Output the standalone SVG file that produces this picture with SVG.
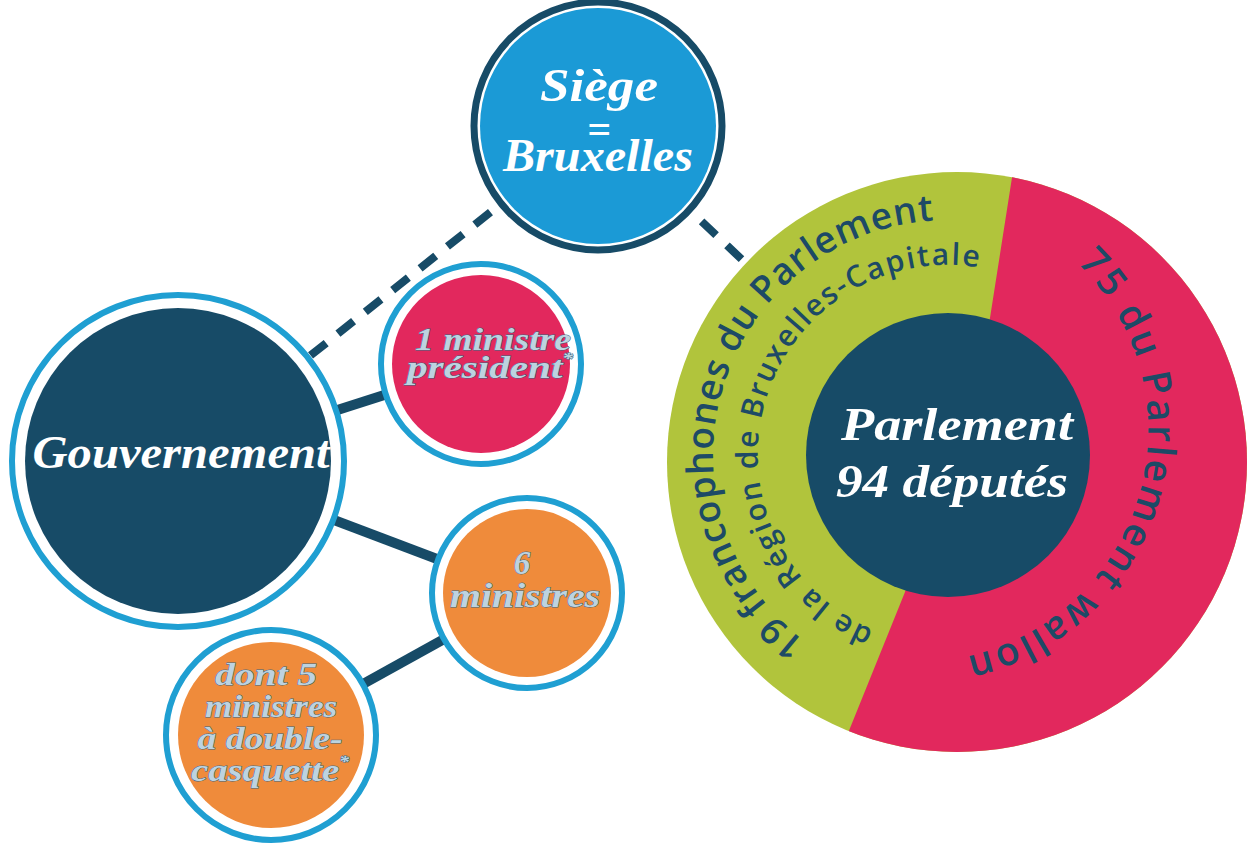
<svg xmlns="http://www.w3.org/2000/svg" width="1254" height="843" viewBox="0 0 1254 843">
<style>
.script{font-family:"Liberation Serif","DejaVu Serif",serif;font-style:italic;font-weight:bold;text-anchor:middle}
.white{fill:#ffffff}
.pale{fill:#bdd3e0;stroke:#3c6781;stroke-width:0.9;paint-order:stroke}
.ring{font-family:"Open Sans","Noto Sans",sans-serif;font-weight:600;fill:#1d4a66}
.conn{stroke:#174b67;fill:none}
.dash{stroke-width:8;stroke-dasharray:20 15}
.solid{stroke-width:10}
.bluering{fill:none;stroke:#1f9fd2;stroke-width:6}
</style>
<defs>
<clipPath id="pinkClip"><polygon points="1021,120 990,318 905,592 821,800 1300,800 1300,120"/></clipPath>
<path id="arcOuter" d="M806.6,642.7 A235,235 0 0 1 1065.5,251.5"/>
<path id="arcInner" d="M873.8,629.9 A190,190 0 1 1 1043,290.5"/>
<path id="arcPink" d="M1077.2,263.1 A232,232 0 0 1 875.7,658.5"/>
</defs>
<rect width="1254" height="843" fill="#ffffff"/>
<g id="connectors">
<line class="conn dash" x1="600" y1="125" x2="178" y2="461"/>
<line class="conn dash" x1="600" y1="125" x2="948" y2="455"/>
<line class="conn solid" x1="178" y1="461" x2="481" y2="364"/>
<line class="conn solid" x1="178" y1="461" x2="527" y2="593"/>
<line class="conn solid" x1="527" y1="593" x2="271" y2="735"/>
</g>
<g id="parlement">
<circle cx="957" cy="462" r="290" fill="#b1c43c"/>
<circle cx="957" cy="462" r="290" fill="#e2285d" clip-path="url(#pinkClip)"/>
<circle cx="948" cy="455" r="142" fill="#174b67"/>
<text class="ring" font-size="37"><textPath href="#arcOuter" textLength="572" lengthAdjust="spacing">19 francophones du Parlement</textPath></text>
<text class="ring" font-size="30"><textPath href="#arcInner" textLength="552" lengthAdjust="spacing">de la Région de Bruxelles-Capitale</textPath></text>
<text class="ring" font-size="39"><textPath href="#arcPink" textLength="500" lengthAdjust="spacing">75 du Parlement wallon</textPath></text>
<text class="script white" x="957" y="440" font-size="47" textLength="232" lengthAdjust="spacingAndGlyphs">Parlement</text>
<text class="script white" x="952" y="497" font-size="47" textLength="232" lengthAdjust="spacingAndGlyphs">94 députés</text>
</g>
<g id="siege">
<circle cx="598" cy="126" r="124" fill="#ffffff" stroke="#174b67" stroke-width="7"/>
<circle cx="598" cy="126" r="118" fill="#1b9ad6"/>
<text class="script white" x="599" y="101" font-size="46" textLength="118" lengthAdjust="spacingAndGlyphs">Siège</text>
<text class="script white" x="599" y="143" font-size="42">=</text>
<text class="script white" x="598" y="171" font-size="46" textLength="190" lengthAdjust="spacingAndGlyphs">Bruxelles</text>
</g>
<g id="gouvernement">
<circle cx="178" cy="461" r="166" fill="#ffffff"/>
<circle cx="178" cy="461" r="166" class="bluering"/>
<circle cx="178" cy="461" r="153" fill="#174b67"/>
<text class="script white" x="181" y="468" font-size="46" textLength="297" lengthAdjust="spacingAndGlyphs">Gouvernement</text>
</g>
<g id="ministre-president">
<circle cx="481" cy="364" r="100" fill="#ffffff"/>
<circle cx="481" cy="364" r="100" class="bluering"/>
<circle cx="481" cy="364" r="89" fill="#e2285d"/>
<text class="script pale" x="493" y="350" font-size="31" textLength="156" lengthAdjust="spacingAndGlyphs">1 ministre</text>
<text class="script pale" x="490" y="378" font-size="31" textLength="166" lengthAdjust="spacingAndGlyphs">président<tspan font-size="16" dy="-14">*</tspan></text>
</g>
<g id="six-ministres">
<circle cx="527" cy="593" r="95" fill="#ffffff"/>
<circle cx="527" cy="593" r="95" class="bluering"/>
<circle cx="527" cy="593" r="84" fill="#ef8b3b"/>
<text class="script pale" x="522" y="574" font-size="33">6</text>
<text class="script pale" x="525" y="607" font-size="33" textLength="150" lengthAdjust="spacingAndGlyphs">ministres</text>
</g>
<g id="double-casquette">
<circle cx="271" cy="735" r="105" fill="#ffffff"/>
<circle cx="271" cy="735" r="105" class="bluering"/>
<circle cx="271" cy="735" r="93" fill="#ef8b3b"/>
<text class="script pale" x="266" y="685" font-size="31" textLength="102" lengthAdjust="spacingAndGlyphs">dont 5</text>
<text class="script pale" x="271" y="717" font-size="31" textLength="132" lengthAdjust="spacingAndGlyphs">ministres</text>
<text class="script pale" x="270" y="749" font-size="31" textLength="145" lengthAdjust="spacingAndGlyphs">à double-</text>
<text class="script pale" x="270" y="781" font-size="31" textLength="158" lengthAdjust="spacingAndGlyphs">casquette<tspan font-size="16" dy="-14">*</tspan></text>
</g>
</svg>
